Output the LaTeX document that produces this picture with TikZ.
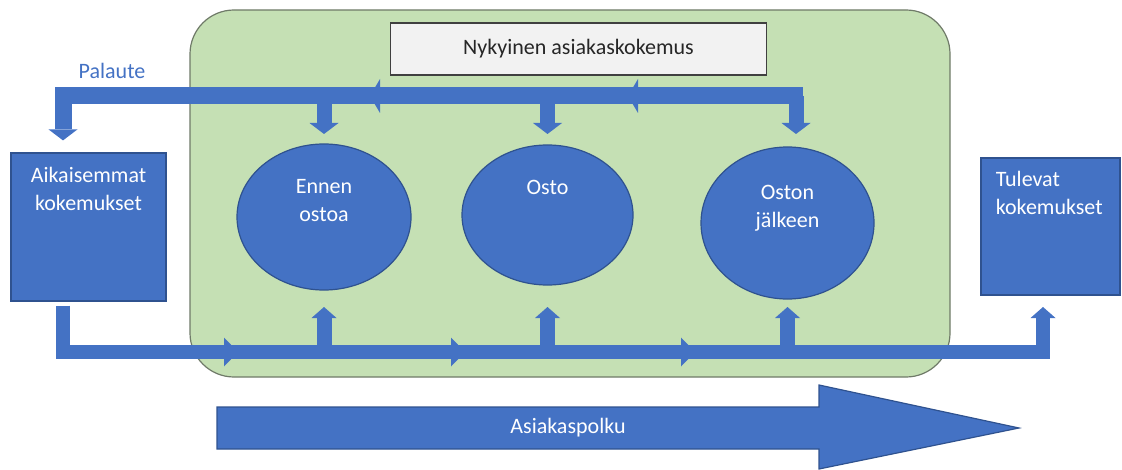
\documentclass[tikz,border=0pt]{standalone}
\usepackage{fontspec}
\setmainfont{Carlito}
\usetikzlibrary{arrows.meta,shapes.geometric,calc}
\definecolor{accblue}{HTML}{4472C4}
\definecolor{accedge}{HTML}{2F528F}
\definecolor{greenfill}{HTML}{C5E0B4}
\definecolor{greenedge}{HTML}{6F7A68}
\definecolor{titlefill}{HTML}{F2F2F2}

\begin{document}
\begin{tikzpicture}[x=0.5pt,y=-0.5pt,
  txt/.style={font=\fontsize{11}{14}\selectfont},
  wtxt/.style={txt,text=white,inner sep=0pt,align=center},
  bluebox/.style={draw=accedge,fill=accblue,line width=0.6pt,inner sep=0pt},
  phase/.style={ellipse,bluebox},
  pipe/.style={draw=accblue,line width=7.5pt},
  dhead/.style={-{Triangle[width=14.5pt,length=5.5pt,line width=0pt]}},
  uhead/.style={-{Triangle[width=12.5pt,length=5.5pt,line width=0pt]}}]
\useasboundingbox (0,0) rectangle (1122,470);

% current experience area
\node[draw=greenedge,fill=greenfill,rounded corners=22pt,line width=0.6pt,
  minimum width=380pt,minimum height=183.5pt] (stage) at (570,193.5) {};
\node[draw=black!75,fill=titlefill,line width=0.6pt,minimum width=188pt,minimum height=26pt,
  txt,text=black!85] (nyky) at (578.5,49) {Nykyinen asiakaskokemus};

\node[bluebox,minimum width=77.5pt,minimum height=74pt,
  label={[wtxt,anchor=north,yshift=-7.3pt]north:Aikaisemmat\\kokemukset}] (prev) at (88.5,227) {};
\node[bluebox,minimum width=69.5pt,minimum height=68.5pt,
  label={[wtxt,align=left,anchor=north west,xshift=7.5pt,yshift=-6.75pt]north west:Tulevat\\kokemukset}] (next) at (1050.5,226.5) {};

\node[phase,minimum width=87pt,minimum height=73pt,
  label={[wtxt,anchor=north,yshift=-18pt]north:Ennen\\ostoa}] (ennen) at (324,217) {};
\node[phase,minimum width=85.5pt,minimum height=70pt,
  label={[wtxt,anchor=north,yshift=-17.5pt]north:Osto}] (osto) at (547.5,215) {};
\node[phase,minimum width=86.5pt,minimum height=76pt,
  label={[wtxt,anchor=north,yshift=-19pt]north:Oston\\jälkeen}] (jalkeen) at (787.5,223) {};

\node[txt,text=accblue] (palaute) at (112,71) {Palaute};

\coordinate (fbL) at (63,96);
\coordinate (fbR) at (796,96);
\coordinate (pjL) at (63,352);
\coordinate (pjR) at (1043,352);
\coordinate (tipD) at (0,134);
\coordinate (tipU) at (0,307);

% feedback
\draw[pipe,line width=8.5pt,dhead,shorten >=6pt] ($(fbR)+(7,0)$) -- (fbL) -- (fbL |- prev.north);
\foreach \n in {ennen,osto}
  \draw[pipe,dhead] (\n |- fbL) -- (\n |- tipD);
\draw[pipe,dhead] (fbR) -- (fbR |- tipD);
\foreach \a/\b in {430/370,688/628}
  \draw[pipe,line width=8.5pt,-{Triangle[width=17pt,length=5pt,line width=0pt]}] (\a,96) -- (\b,96);

% journey
\draw[pipe,line width=7pt,uhead,shorten <=2pt] (prev.south -| pjL) -- (pjL) -- (pjR) -- (pjR |- tipU);
\foreach \n in {ennen,osto,jalkeen}
  \draw[pipe,uhead] (\n |- pjL) -- (\n |- tipU);
\foreach \a/\b in {163/238,388/465,620/695}
  \draw[pipe,line width=7pt,-{Triangle[width=14.5pt,length=7pt,line width=0pt]}] (\a,352) -- (\b,352);

\draw[fill=accblue,draw=accedge,line width=0.6pt] (217,407) -- (819,407) -- (819,385) -- (1019,428)
  -- (819,469) -- (819,449) -- (217,449) -- cycle;
\node[wtxt] (polku) at (568,428) {Asiakaspolku};
\end{tikzpicture}
\end{document}
